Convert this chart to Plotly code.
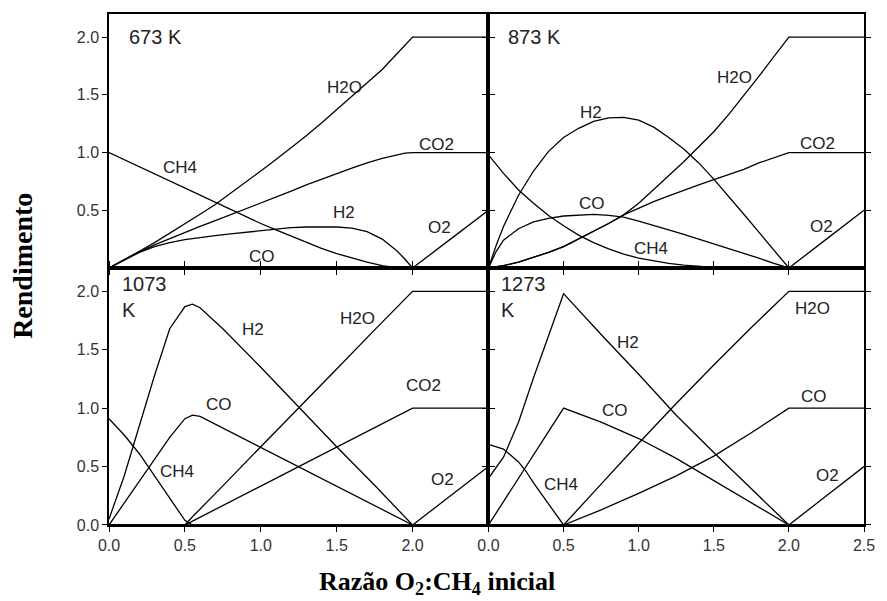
import plotly.graph_objects as go

# ---------------- data ----------------
# 673 K
x673 = [0, 0.1, 0.2, 0.3, 0.4, 0.5, 0.6, 0.7, 0.8, 0.9, 1.0, 1.1, 1.2, 1.3, 1.4, 1.5, 1.6, 1.7, 1.8, 1.9, 1.95, 2.0, 2.25, 2.5]
h2o_673 = [0, 0.07, 0.145, 0.22, 0.30, 0.38, 0.465, 0.55, 0.645, 0.74, 0.84, 0.94, 1.04, 1.145, 1.255, 1.37, 1.485, 1.60, 1.72, 1.86, 1.93, 2.0, 2.0, 2.0]
co2_673 = [0, 0.07, 0.14, 0.20, 0.255, 0.31, 0.36, 0.41, 0.46, 0.51, 0.56, 0.61, 0.665, 0.72, 0.77, 0.82, 0.865, 0.91, 0.95, 0.98, 0.995, 1.0, 1.0, 1.0]
h2_673 = [0, 0.07, 0.135, 0.185, 0.22, 0.245, 0.265, 0.28, 0.295, 0.31, 0.325, 0.34, 0.35, 0.355, 0.357, 0.355, 0.345, 0.315, 0.25, 0.145, 0.075, 0, 0, 0]
ch4_673 = [1.0, 0.938, 0.876, 0.814, 0.752, 0.69, 0.628, 0.566, 0.505, 0.445, 0.385, 0.33, 0.275, 0.22, 0.17, 0.125, 0.085, 0.05, 0.02, 0.0, 0, 0, 0, 0]
co_673 = [0, 0.008, 0.008, 0.008, 0.008, 0.008, 0.008, 0.008, 0.008, 0.008, 0.008, 0.008, 0.008, 0.008, 0.008, 0.008, 0.008, 0.008, 0.008, 0.005, 0.003, 0, 0, 0]
o2_673 = [0, 0, 0, 0, 0, 0, 0, 0, 0, 0, 0, 0, 0, 0, 0, 0, 0, 0, 0, 0, 0, 0, 0.25, 0.5]

# 873 K
x873 = [0, 0.05, 0.1, 0.2, 0.3, 0.4, 0.5, 0.6, 0.7, 0.8, 0.9, 1.0, 1.1, 1.2, 1.3, 1.4, 1.5, 1.6, 1.7, 1.8, 1.9, 2.0, 2.25, 2.5]
h2_873 = [0, 0.19, 0.36, 0.63, 0.84, 1.01, 1.13, 1.21, 1.27, 1.30, 1.305, 1.28, 1.22, 1.13, 1.03, 0.91, 0.77, 0.62, 0.465, 0.31, 0.155, 0, 0, 0]
co_873 = [0, 0.14, 0.24, 0.34, 0.40, 0.43, 0.45, 0.46, 0.465, 0.455, 0.44, 0.405, 0.37, 0.33, 0.29, 0.25, 0.21, 0.165, 0.125, 0.085, 0.04, 0, 0, 0]
ch4_873 = [0.98, 0.90, 0.82, 0.675, 0.56, 0.455, 0.365, 0.285, 0.22, 0.165, 0.12, 0.085, 0.06, 0.04, 0.025, 0.012, 0.005, 0, 0, 0, 0, 0, 0, 0]
h2o_873 = [0, 0.01, 0.02, 0.05, 0.09, 0.135, 0.185, 0.25, 0.315, 0.385, 0.46, 0.56, 0.68, 0.80, 0.92, 1.05, 1.18, 1.33, 1.49, 1.66, 1.83, 2.0, 2.0, 2.0]
co2_873 = [0, 0.01, 0.02, 0.05, 0.09, 0.135, 0.185, 0.25, 0.315, 0.385, 0.46, 0.52, 0.575, 0.625, 0.675, 0.72, 0.765, 0.81, 0.855, 0.91, 0.955, 1.0, 1.0, 1.0]
o2_873 = [0, 0, 0, 0, 0, 0, 0, 0, 0, 0, 0, 0, 0, 0, 0, 0, 0, 0, 0, 0, 0, 0, 0.25, 0.5]

# 1073 K
x1073 = [0, 0.1, 0.2, 0.3, 0.4, 0.5, 0.55, 0.6, 0.75, 1.0, 1.25, 1.5, 1.75, 2.0, 2.25, 2.5]
h2_1073 = [0.05, 0.42, 0.85, 1.28, 1.68, 1.87, 1.89, 1.86, 1.68, 1.35, 1.01, 0.67, 0.34, 0, 0, 0]
co_1073 = [0, 0.19, 0.38, 0.57, 0.75, 0.91, 0.94, 0.93, 0.83, 0.66, 0.50, 0.33, 0.165, 0, 0, 0]
ch4_1073 = [0.91, 0.77, 0.61, 0.42, 0.22, 0.04, 0, 0, 0, 0, 0, 0, 0, 0, 0, 0]
h2o_1073 = [0, 0, 0, 0, 0, 0, 0.07, 0.135, 0.335, 0.67, 1.0, 1.335, 1.67, 2.0, 2.0, 2.0]
co2_1073 = [0, 0, 0, 0, 0, 0, 0.033, 0.067, 0.167, 0.333, 0.5, 0.667, 0.833, 1.0, 1.0, 1.0]
o2_1073 = [0, 0, 0, 0, 0, 0, 0, 0, 0, 0, 0, 0, 0, 0, 0.25, 0.5]

# 1273 K
x1273 = [0, 0.1, 0.2, 0.25, 0.3, 0.4, 0.5, 0.75, 1.0, 1.25, 1.5, 1.75, 2.0, 2.25, 2.5]
h2_1273 = [0.40, 0.58, 0.88, 1.07, 1.26, 1.62, 1.98, 1.63, 1.29, 0.94, 0.62, 0.31, 0, 0, 0]
co_1273 = [0, 0.2, 0.4, 0.5, 0.6, 0.8, 1.0, 0.88, 0.74, 0.57, 0.38, 0.19, 0, 0, 0]
ch4_1273 = [0.69, 0.65, 0.54, 0.46, 0.36, 0.18, 0, 0, 0, 0, 0, 0, 0, 0, 0]
h2o_1273 = [0, 0, 0, 0, 0, 0, 0, 0.35, 0.70, 1.04, 1.37, 1.69, 2.0, 2.0, 2.0]
co2_1273 = [0, 0, 0, 0, 0, 0, 0, 0.13, 0.27, 0.42, 0.59, 0.79, 1.0, 1.0, 1.0]
o2_1273 = [0, 0, 0, 0, 0, 0, 0, 0, 0, 0, 0, 0, 0, 0.25, 0.5]

temps = ["673 K", "873 K", "1073<br>K", "1273<br>K"]
x_ticks = [0, 0.5, 1.0, 1.5, 2.0, 2.5]
x_ticktext = ["0.0", "0.5", "1.0", "1.5", "2.0", "2.5"]
y_ticks = [0, 0.5, 1.0, 1.5, 2.0]
y_ticktext = ["0.0", "0.5", "1.0", "1.5", "2.0"]

# curve labels: (text, x, y) in data units per panel
labels_673 = [("H2O", 1.55, 1.56), ("CO2", 2.16, 1.07), ("CH4", 0.47, 0.87), ("H2", 1.55, 0.48), ("O2", 2.18, 0.35), ("CO", 1.01, 0.10)]
labels_873 = [("H2O", 1.64, 1.65), ("H2", 0.68, 1.35), ("CO2", 2.19, 1.08), ("CO", 0.69, 0.56), ("CH4", 1.08, 0.17), ("O2", 2.22, 0.36)]
labels_1073 = [("H2", 0.95, 1.67), ("H2O", 1.64, 1.77), ("CO2", 2.07, 1.19), ("CO", 0.725, 1.03), ("CH4", 0.45, 0.46), ("O2", 2.2, 0.39)]
labels_1273 = [("H2", 0.93, 1.56), ("H2O", 2.16, 1.85), ("CO", 2.17, 1.10), ("CO", 0.845, 0.98), ("CH4", 0.48, 0.35), ("O2", 2.26, 0.42)]

# ---------------- figure ----------------
panels = [
    (x673, [h2o_673, co2_673, h2_673, ch4_673, co_673, o2_673], labels_673, "x", "y"),
    (x873, [h2_873, co_873, ch4_873, h2o_873, co2_873, o2_873], labels_873, "x2", "y2"),
    (x1073, [h2_1073, co_1073, ch4_1073, h2o_1073, co2_1073, o2_1073], labels_1073, "x3", "y3"),
    (x1273, [h2_1273, co_1273, ch4_1273, h2o_1273, co2_1273, o2_1273], labels_1273, "x4", "y4"),
]

fig = go.Figure()
annotations = []
label_font = dict(family="Liberation Sans, Arial, sans-serif", size=17, color="#222")
for i, (xs, series, labels, xa, ya) in enumerate(panels):
    for ys in series:
        fig.add_trace(go.Scatter(x=xs, y=ys, mode="lines", xaxis=xa, yaxis=ya,
                                 line=dict(color="black", width=1.3), showlegend=False,
                                 hoverinfo="skip"))
    for (t, lx, ly) in labels:
        annotations.append(dict(text=t, x=lx, y=ly, xref=xa, yref=ya, showarrow=False,
                                font=label_font, xanchor="center", yanchor="middle"))
    annotations.append(dict(text=temps[i], x=0.07 if i >= 2 else 0.12, y=1.95 if i >= 2 else 2.0,
                            xref=xa, yref=ya, showarrow=False, align="left",
                            font=dict(family="Liberation Sans, Arial, sans-serif", size=20, color="#222"),
                            xanchor="left", yanchor="middle"))

# axis titles
title_font = dict(family="Liberation Serif, Times New Roman, serif", size=28, color="black")
annotations.append(dict(text="<b>Rendimento</b>", x=-0.114, y=0.507, xref="paper", yref="paper",
                        showarrow=False, textangle=-90, font=title_font,
                        xanchor="center", yanchor="middle"))
annotations.append(dict(text="<b>Razão O<sub>2</sub>:CH<sub>4</sub> inicial</b>", x=0.434, y=-0.1135,
                        xref="paper", yref="paper", showarrow=False,
                        font=dict(family="Liberation Serif, Times New Roman, serif", size=26, color="black"),
                        xanchor="center", yanchor="middle"))

xsplit = 0.5026
ysplit = 0.503
tick_font = dict(family="Liberation Sans, Arial, sans-serif", size=16, color="#333")
common = dict(showline=True, linecolor="black", linewidth=1.5, ticks="outside", ticklen=5,
              tickwidth=1.3, tickcolor="black", showgrid=False, zeroline=False,
              tickfont=tick_font, fixedrange=True)

layout = dict(
    width=887, height=601,
    margin=dict(l=109, r=15, t=14, b=76),
    paper_bgcolor="white", plot_bgcolor="white",
    annotations=annotations,
    xaxis=dict(domain=[0, xsplit], range=[0, 2.5], anchor="y", tickvals=x_ticks[:5],
               showticklabels=False, mirror=True, **common),
    yaxis=dict(domain=[ysplit, 1], range=[0, 2.2], anchor="x", tickvals=y_ticks[1:],
               ticktext=y_ticktext[1:], mirror="ticks", **common),
    xaxis2=dict(domain=[xsplit, 1], range=[0, 2.5], anchor="y2", tickvals=x_ticks,
                showticklabels=False, mirror=True, **common),
    yaxis2=dict(domain=[ysplit, 1], range=[0, 2.2], anchor="x2", tickvals=y_ticks[1:],
                showticklabels=False, mirror="ticks", **common),
    xaxis3=dict(domain=[0, xsplit], range=[0, 2.5], anchor="y3", tickvals=x_ticks[:5],
                ticktext=x_ticktext[:5], mirror="ticks", **common),
    yaxis3=dict(domain=[0, ysplit], range=[0, 2.2], anchor="x3", tickvals=y_ticks,
                ticktext=y_ticktext, mirror="ticks", **common),
    xaxis4=dict(domain=[xsplit, 1], range=[0, 2.5], anchor="y4", tickvals=x_ticks,
                ticktext=x_ticktext, mirror="ticks", **common),
    yaxis4=dict(domain=[0, ysplit], range=[0, 2.2], anchor="x4", tickvals=y_ticks,
                showticklabels=False, mirror="ticks", **common),
)
fig.update_layout(**layout)
fig.write_html("out.html", config={"displayModeBar": False},
               post_script="document.body.style.margin='0px';document.body.style.overflow='hidden';")
